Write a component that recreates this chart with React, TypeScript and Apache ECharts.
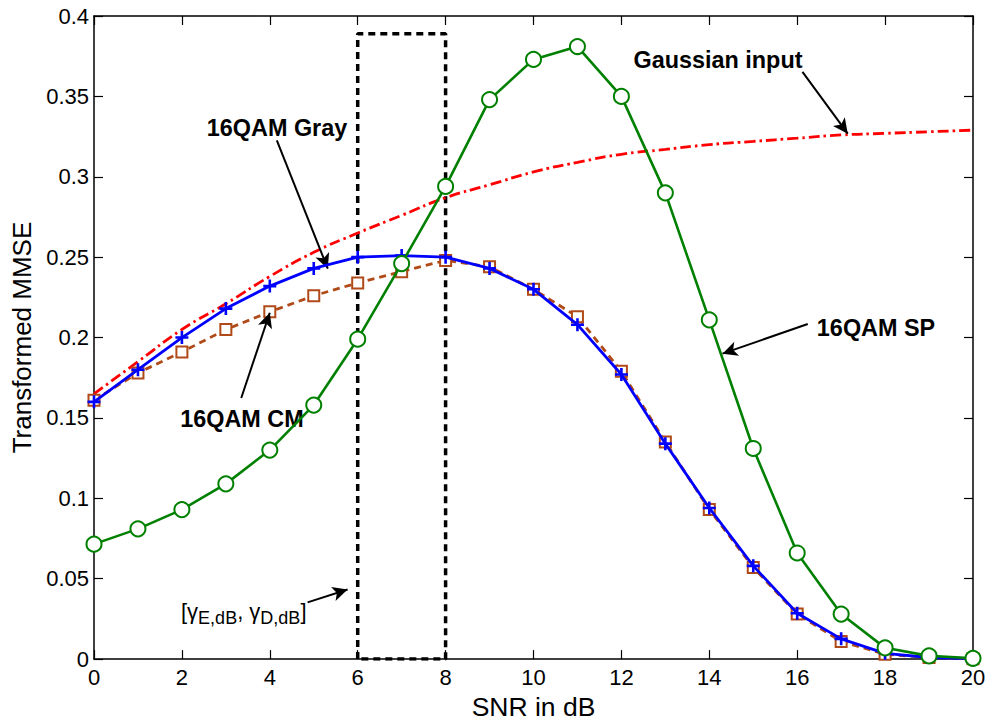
import React, { useEffect, useRef } from "react";
import * as echarts from "echarts";

const snr = [0, 1, 2, 3, 4, 5, 6, 7, 8, 9, 10, 11, 12, 13, 14, 15, 16, 17, 18, 19, 20];
const gaussianInput = [0.165, 0.185, 0.205, 0.221, 0.238, 0.253, 0.265, 0.276, 0.287, 0.295, 0.303, 0.309, 0.314, 0.317, 0.32, 0.322, 0.324, 0.326, 0.327, 0.328, 0.329];
const qamGray = [0.16, 0.18, 0.2, 0.218, 0.232, 0.243, 0.25, 0.251, 0.25, 0.243, 0.23, 0.208, 0.177, 0.134, 0.094, 0.058, 0.0285, 0.0126, 0.0036, 0.001, 0.0003];
const qamCM = [0.161, 0.178, 0.191, 0.205, 0.216, 0.226, 0.234, 0.241, 0.248, 0.244, 0.23, 0.213, 0.179, 0.135, 0.093, 0.057, 0.028, 0.011, 0.003, 0.001, 0.0002];
const qamSP = [0.0715, 0.081, 0.093, 0.109, 0.13, 0.158, 0.199, 0.246, 0.294, 0.348, 0.373, 0.381, 0.35, 0.29, 0.211, 0.131, 0.066, 0.028, 0.007, 0.002, 0.0005];

// dashed box marking [gamma_E,dB, gamma_D,dB]
const boxX = [6, 6, 8, 8, 6];
const boxY = [0, 0.389, 0.389, 0, 0];

// annotation arrows: [x1, y1, x2, y2] in data units (arrowhead at x2, y2)
const arrowGray = [4.16, 0.3226, 5.32, 0.2428];
const arrowCM = [3.35, 0.1624, 4.0, 0.2154];
const arrowGauss = [16.12, 0.3652, 17.15, 0.3268];
const arrowSP = [16.24, 0.2084, 14.3, 0.19];
const arrowGamma = [4.86, 0.0353, 5.77, 0.0433];

const labelGray = "16QAM Gray";
const labelCM = "16QAM CM";
const labelGauss = "Gaussian input";
const labelSP = "16QAM SP";

const FONT = "'Liberation Sans', Arial, Helvetica, sans-serif";

const pair = (xs: number[], ys: number[]) => xs.map((x, i) => [x, ys[i]]);
const arrow = (a: number[]) => [{ coord: [a[0], a[1]] }, { coord: [a[2], a[3]] }];

export default function App() {
  const ref = useRef<HTMLDivElement>(null);
  useEffect(() => {
    if (!ref.current) return;
    const chart = echarts.init(ref.current, null, { renderer: "svg" });
    const axisLine = { show: true, onZero: false, lineStyle: { color: "#000", width: 1.5 } };
    const tick = { show: true, inside: true, length: 9, lineStyle: { color: "#000", width: 1.2 } };
    const bold = { fontFamily: FONT, fontSize: 23.4, fontWeight: "bold", fill: "#000", align: "center", verticalAlign: "middle" };
    chart.setOption({
      animation: false,
      backgroundColor: "#fff",
      grid: { left: 94, width: 879, top: 16, height: 651, containLabel: false },
      xAxis: [
        {
          type: "value",
          min: 0,
          max: 20,
          interval: 2,
          position: "bottom",
          name: "SNR in dB",
          nameLocation: "middle",
          nameGap: 32,
          nameTextStyle: { fontFamily: FONT, fontSize: 26.5, color: "#000" },
          axisLine,
          axisTick: tick,
          axisLabel: { fontFamily: FONT, fontSize: 22, color: "#000", margin: 7 },
          splitLine: { show: false },
        },
        {
          type: "value",
          min: 0,
          max: 20,
          interval: 2,
          position: "top",
          axisLine,
          axisTick: tick,
          axisLabel: { show: false },
          splitLine: { show: false },
        },
      ],
      yAxis: [
        {
          type: "value",
          min: 0,
          max: 0.4,
          interval: 0.05,
          position: "left",
          name: "Transformed MMSE",
          nameLocation: "middle",
          nameGap: 56,
          nameTextStyle: { fontFamily: FONT, fontSize: 26, color: "#000" },
          axisLine,
          axisTick: tick,
          axisLabel: { fontFamily: FONT, fontSize: 22, color: "#000", margin: 5 },
          splitLine: { show: false },
        },
        {
          type: "value",
          min: 0,
          max: 0.4,
          interval: 0.05,
          position: "right",
          axisLine,
          axisTick: tick,
          axisLabel: { show: false },
          splitLine: { show: false },
        },
      ],
      series: [
        {
          name: "box",
          type: "line",
          data: pair(boxX, boxY),
          symbol: "none",
          lineStyle: { color: "#000", width: 3.5, type: [7, 5] },
          z: 2,
        },
        {
          name: labelGauss,
          type: "line",
          data: pair(snr, gaussianInput),
          symbol: "none",
          smooth: true,
          lineStyle: { color: "#ff0000", width: 2.8, type: [11, 4, 2.5, 4] },
          z: 3,
        },
        {
          name: labelCM,
          type: "line",
          data: pair(snr, qamCM),
          symbol: "emptyRect",
          symbolSize: 11,
          itemStyle: { color: "#b04a18", borderWidth: 2.5 },
          lineStyle: { color: "#b04a18", width: 2.8, type: [7, 5] },
          z: 4,
        },
        {
          name: labelGray,
          type: "line",
          data: pair(snr, qamGray),
          symbol: "path://M0,4H10V6H0Z M4,0H6V10H4Z",
          symbolSize: 13,
          itemStyle: { color: "#0000ff" },
          lineStyle: { color: "#0000ff", width: 2.8 },
          z: 5,
        },
        {
          name: labelSP,
          type: "line",
          data: pair(snr, qamSP),
          symbol: "emptyCircle",
          symbolSize: 15,
          itemStyle: { color: "#008000", borderWidth: 2.5 },
          lineStyle: { color: "#008000", width: 2.6 },
          z: 6,
        },
        {
          name: "arrows",
          type: "line",
          data: [],
          z: 7,
          markLine: {
            silent: true,
            symbol: ["none", "arrow"],
            symbolSize: [11, 15],
            label: { show: false },
            lineStyle: { color: "#000", width: 2, type: "solid" },
            data: [arrow(arrowGray), arrow(arrowCM), arrow(arrowGauss), arrow(arrowSP), arrow(arrowGamma)],
          },
        },
      ],
      graphic: [
        { type: "text", x: 277, y: 128, style: { ...bold, text: labelGray } },
        { type: "text", x: 242, y: 419, style: { ...bold, text: labelCM } },
        { type: "text", x: 718, y: 60, style: { ...bold, text: labelGauss } },
        { type: "text", x: 876, y: 328, style: { ...bold, text: labelSP } },
        {
          type: "text",
          x: 181,
          y: 595,
          style: {
            text: "[{g|γ}{s|E,dB}, {g|γ}{s|D,dB}]",
            fontFamily: FONT,
            fontSize: 22,
            fill: "#000",
            align: "left",
            verticalAlign: "top",
            rich: {
              g: { fontFamily: FONT, fontSize: 22, fill: "#000" },
              s: { fontFamily: FONT, fontSize: 18, fill: "#000", padding: [14, 0, 0, 0] },
            },
          },
        },
      ],
    });
    return () => chart.dispose();
  }, []);
  return <div ref={ref} style={{ position: "fixed", left: 0, top: 0, width: 993, height: 725 }} />;
}
